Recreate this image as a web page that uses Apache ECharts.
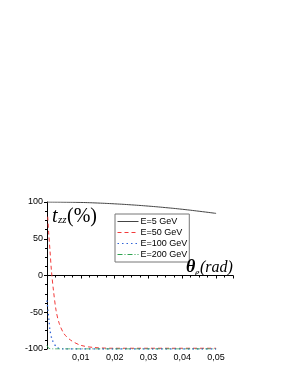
<!DOCTYPE html>
<html>
<head>
<meta charset="utf-8">
<script src="https://cdn.jsdelivr.net/npm/echarts@6/dist/echarts.min.js"></script>
<style>
html,body{margin:0;padding:0;background:#fff;}
#c{width:297px;height:384px;}
</style>
</head>
<body>
<div id="c"></div>
<script>
var seriesNames = ['E=5 GeV', 'E=50 GeV', 'E=100 GeV', 'E=200 GeV'];

var theta5 = [0, 0.005, 0.01, 0.015, 0.02, 0.025, 0.03, 0.035, 0.04, 0.045, 0.05];
var tzz5   = [100, 99.8, 99.4, 98.6, 97.5, 96.1, 94.4, 92.4, 90.1, 87.4, 84.5];

var theta50 = [0.0002, 0.0005, 0.0009, 0.0013, 0.0019, 0.0027, 0.0036, 0.005, 0.007, 0.01, 0.014, 0.02, 0.03, 0.04, 0.05];
var tzz50   = [80, 58, 33, 7, -20, -48, -65, -79, -88, -95, -98, -99, -99, -99, -99];

var theta100 = [0, 0.0003, 0.0006, 0.0009, 0.0016, 0.003, 0.005, 0.01, 0.02, 0.03, 0.04, 0.05];
var tzz100   = [-34, -48, -61, -75, -88, -98, -100, -100, -100, -100, -100, -100];

var theta200 = [0, 0.0004, 0.0009, 0.002, 0.01, 0.02, 0.03, 0.04, 0.05];
var tzz200   = [-95, -98.5, -99.7, -100, -100, -100, -100, -100, -100];

var yTicks = [-100, -50, 0, 50, 100];

function pairs(xs, ys) { return xs.map(function (x, i) { return [x, ys[i]]; }); }

var chart = echarts.init(document.getElementById('c'), null, {renderer: 'canvas'});
var serif = '"Liberation Serif", "DejaVu Serif", serif';
var sans = '"Liberation Sans", Arial, sans-serif';

function txt(str, left, top, size, italic, bold) {
  return {type: 'text', left: left, top: top, z: 100,
    style: {text: str, fontFamily: serif, fontSize: size,
      fontStyle: italic ? 'italic' : 'normal', fontWeight: bold ? 'bold' : 'normal', fill: '#000'}};
}

chart.setOption({
  animation: false,
  backgroundColor: '#fff',
  grid: {left: 47, right: 64, top: 202, bottom: 35, containLabel: false},
  legend: {
    orient: 'vertical',
    left: 115, top: 214,
    data: seriesNames,
    backgroundColor: '#fff',
    borderColor: '#777',
    borderWidth: 1,
    padding: [3, 2, 3, 2],
    itemGap: 2,
    itemWidth: 21,
    itemHeight: 8,
    itemStyle: {opacity: 0},
    lineStyle: {width: 1},
    textStyle: {fontFamily: sans, fontSize: 9, color: '#000', padding: [0, 0, 0, -3]}
  },
  xAxis: {
    type: 'value', min: 0, max: 0.055, interval: 0.01,
    axisLine: {onZero: true, lineStyle: {color: '#000', width: 1}},
    axisTick: {length: 3, lineStyle: {color: '#000'}},
    minorTick: {show: true, splitNumber: 4, length: 2, lineStyle: {color: '#000'}},
    splitLine: {show: false},
    axisLabel: {
      showMinLabel: false, showMaxLabel: false, margin: 4,
      fontFamily: sans, fontSize: 9, color: '#000',
      formatter: function (v) { return v.toFixed(2).replace('.', ','); }
    }
  },
  yAxis: {
    type: 'value', min: -100, max: 100, interval: 50,
    axisLine: {show: true, lineStyle: {color: '#000', width: 1}},
    axisTick: {length: 3, lineStyle: {color: '#000'}},
    minorTick: {show: true, splitNumber: 4, length: 2, lineStyle: {color: '#000'}},
    splitLine: {show: false},
    axisLabel: {margin: 4, fontFamily: sans, fontSize: 9, color: '#000',
      formatter: function (v) { return yTicks.indexOf(v) >= 0 ? String(v) : ''; }}
  },
  series: [
    {name: seriesNames[0], type: 'line', symbol: 'none', smooth: true, data: pairs(theta5, tzz5),
     lineStyle: {color: '#444', width: 1, type: 'solid'}, itemStyle: {color: '#444'}},
    {name: seriesNames[1], type: 'line', symbol: 'none', smooth: 0.3, data: pairs(theta50, tzz50),
     lineStyle: {color: '#f23a3a', width: 1, type: [4, 3]}, itemStyle: {color: '#f23a3a'}},
    {name: seriesNames[2], type: 'line', symbol: 'none', smooth: 0.3, data: pairs(theta100, tzz100),
     lineStyle: {color: '#2e62d6', width: 1.3, type: [1.5, 3]}, itemStyle: {color: '#2e62d6'}},
    {name: seriesNames[3], type: 'line', symbol: 'none', smooth: 0.3, data: pairs(theta200, tzz200),
     lineStyle: {color: '#2fa350', width: 1, type: [5, 2, 1, 2]}, itemStyle: {color: '#2fa350'}}
  ],
  graphic: [
    txt('t', 52, 207, 20, true, false),
    txt('zz', 58, 215, 11, true, false),
    txt('(%)', 67, 207, 20, false, false),
    txt('θ', 186, 258, 18, true, true),
    txt('e', 195, 268, 10, true, false),
    txt('(rad)', 200, 260, 16, true, false)
  ]
});
</script>
</body>
</html>
